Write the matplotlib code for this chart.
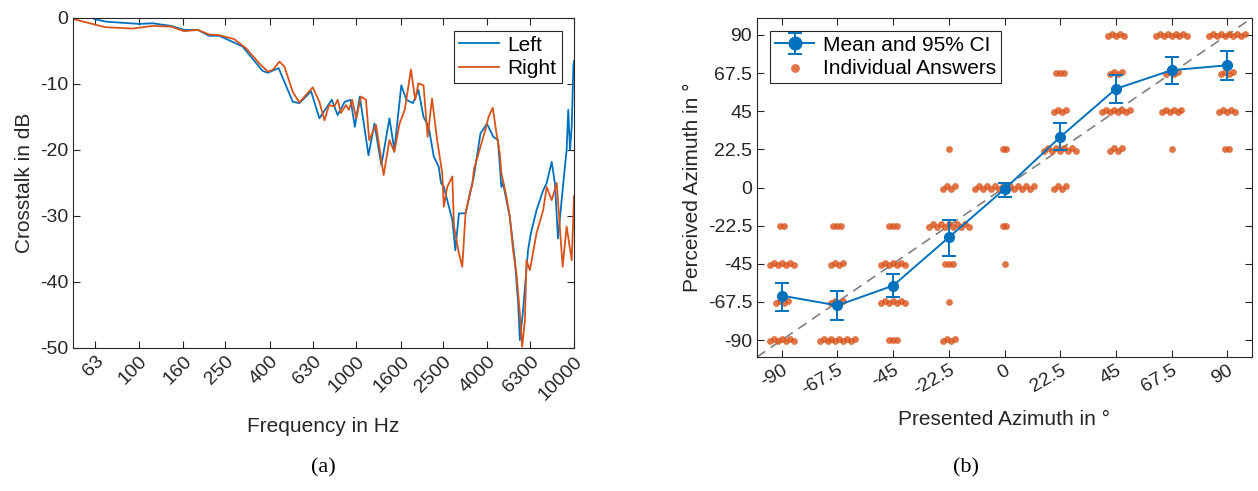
import numpy as np
import matplotlib
matplotlib.use('Agg')
import matplotlib.pyplot as plt

# (a) crosstalk
left_f = [62.5, 70.7, 100.7, 116, 141, 162, 187, 211, 235, 300, 371, 392, 440,
          511, 548, 620, 677, 772, 821, 885, 942, 985, 1038, 1138, 1212, 1304,
          1420, 1496, 1610, 1700, 1820, 1930, 2037, 2150, 2270, 2390, 2450, 2524,
          2762, 2850, 2962, 3176, 3468, 3718, 3980, 4260, 4475, 4640, 4720, 5070,
          5350, 5540, 5640, 5820, 6150, 6340, 6730, 7220, 7490, 7900, 8170, 8440,
          8930, 9250, 9410, 9590, 9760, 9930, 10000]
left_db = [-0.15, -0.55, -0.9, -0.8, -1.2, -1.8, -1.8, -2.7, -2.7, -4.3, -8.0, -8.3, -7.6,
           -12.7, -12.9, -11.1, -15.2, -12.4, -14.7, -12.7, -12.4, -16.5, -11.9, -20.8, -16.0, -22.3,
           -15.2, -20.0, -10.2, -12.4, -12.9, -10.9, -15.0, -16.5, -21.0, -22.5, -25.0, -25.6,
           -30.6, -35.2, -29.6, -29.6, -24.0, -17.5, -16.0, -18.0, -18.5, -25.6, -25.0, -30.1,
           -36.7, -43.2, -48.8, -44.7, -35.2, -32.6, -29.1, -26.1, -25.0, -21.8, -25.0, -33.4,
           -25.0, -20.0, -13.9, -20.0, -16.5, -7.4, -6.5]

right_f = [50, 61.4, 70.7, 93.8, 116, 141, 162, 187, 211, 235, 275, 312, 359, 392, 413,
           444, 468, 511, 548, 631, 677, 714, 750, 793, 821, 850, 896, 925, 958, 999,
           1052, 1108, 1146, 1232, 1336, 1420, 1496, 1580, 1670, 1783, 1865, 1930, 2037,
           2127, 2228, 2352, 2482, 2524, 2617, 2762, 2810, 2962, 3068, 3176, 3350, 3410,
           3468, 3718, 3913, 4050, 4235, 4415, 4560, 4640, 4895, 5070, 5250, 5440, 5640,
           5780, 5950, 6050, 6270, 6730, 7220, 7490, 7900, 8330, 8870, 9250, 9760, 9930, 10000]
right_db = [-0.15, -0.9, -1.4, -1.6, -1.2, -1.3, -2.0, -1.8, -2.5, -2.6, -3.2, -4.6, -6.9, -8.1, -7.9,
            -6.6, -7.4, -11.2, -12.8, -10.5, -12.7, -15.5, -13.2, -13.4, -12.4, -14.4, -13.2, -13.9, -12.4, -15.2,
            -11.9, -12.4, -18.5, -16.2, -23.8, -18.5, -20.3, -16.0, -13.9, -7.8, -12.4, -9.9, -10.2,
            -18.0, -12.2, -18.5, -23.5, -28.6, -25.6, -24.0, -31.6, -35.7, -37.7, -29.6, -26.1, -25.3,
            -23.0, -19.5, -17.0, -15.0, -13.6, -17.7, -20.5, -23.5, -27.1, -30.1, -35.2, -38.7, -44.7,
            -49.8, -45.8, -36.7, -38.2, -32.6, -29.1, -25.6, -27.6, -25.0, -37.7, -31.6, -36.7, -30.1, -27.0]

freq_ticks = [63, 100, 160, 250, 400, 630, 1000, 1600, 2500, 4000, 6300, 10000]

# (b) localisation test
presented = [-90, -67.5, -45, -22.5, 0, 22.5, 45, 67.5, 90]
mean_perceived = [-63.8, -69.6, -57.9, -29.4, -1.0, 29.8, 58.2, 69.2, 72.1]
ci_low = [-72.6, -78.2, -64.8, -40.2, -5.5, 21.9, 49.6, 61.2, 63.7]
ci_high = [-56.3, -61.0, -50.8, -19.2, 2.9, 37.8, 66.2, 77.0, 80.4]
# answers per presented angle: {perceived angle: number of answers}
answers = [
    {-22.5: 2, -45: 7, -67.5: 4, -90: 7},
    {-22.5: 3, -45: 4, -67.5: 4, -90: 10},
    {-22.5: 3, -45: 7, -67.5: 7, -90: 3},
    {22.5: 1, 0: 4, -22.5: 11, -45: 3, -67.5: 1, -90: 4},
    {22.5: 2, 0: 16, -22.5: 2, -45: 1},
    {67.5: 3, 45: 4, 22.5: 9, 0: 4},
    {90: 5, 67.5: 4, 45: 8, 22.5: 4},
    {90: 9, 67.5: 4, 45: 6, 22.5: 1},
    {90: 10, 67.5: 4, 45: 5, 22.5: 2},
]
az_ticks = [-90, -67.5, -45, -22.5, 0, 22.5, 45, 67.5, 90]

blue = '#0072BD'
orange = '#D95319'
txt = '#262626'

plt.rcParams['font.family'] = ['Liberation Sans', 'DejaVu Sans']
plt.rcParams['axes.edgecolor'] = txt
plt.rcParams['xtick.color'] = txt
plt.rcParams['ytick.color'] = txt

fig = plt.figure(figsize=(12.58, 4.91), dpi=100)
ax1 = fig.add_axes([73 / 1258, 1 - 348 / 491, (574 - 73) / 1258, (348 - 18) / 491])
ax2 = fig.add_axes([757 / 1258, 1 - 357 / 491, (1252 - 757) / 1258, (357 - 18) / 491])

for ax in (ax1, ax2):
    ax.tick_params(direction='in', top=True, right=True, labelsize=14, length=5, width=0.8)
    ax.tick_params(which='minor', top=False, bottom=False, left=False, right=False)
    for s in ax.spines.values():
        s.set_linewidth(0.8)

# ---- (a)
ax1.semilogx(left_f, left_db, color=blue, lw=1.3, label='Left')
ax1.semilogx(right_f, right_db, color=orange, lw=1.3, label='Right')
ax1.set_xlim(50, 10000)
ax1.set_ylim(-50, 0)
ax1.set_xticks(freq_ticks)
ax1.set_xticklabels([str(f) for f in freq_ticks], rotation=45, ha='right',
                    rotation_mode='anchor')
ax1.minorticks_off()
ax1.set_yticks([0, -10, -20, -30, -40, -50])
ax1.set_yticklabels(['0', '-10', '-20', '-30', '-40', '-50'])
ax1.set_xlabel('Frequency in Hz', fontsize=15, color=txt, labelpad=10)
ax1.set_ylabel('Crosstalk in dB', fontsize=15, color=txt)
leg1 = ax1.legend(loc='upper right', fontsize=15, fancybox=False, framealpha=1,
                  edgecolor=txt, handlelength=1.9, borderpad=0.25, labelspacing=0.2,
                  handletextpad=0.4, borderaxespad=0.6)
leg1.get_frame().set_linewidth(0.8)

# ---- (b)
ax2.plot([-100, 100], [-100, 100], color='#808080', lw=1.2, dashes=(6, 4), zorder=1)
xs, ys = [], []
for x0, col in zip(presented, answers):
    for y0, n in col.items():
        for i in range(n):
            xs.append(x0 + (i - (n - 1) / 2) * 1.6)
            ys.append(y0 + (0.7 * (1 if i % 2 else -1) if n > 3 else 0))
ax2.scatter(xs, ys, s=24, color=orange, alpha=0.8, linewidths=0, zorder=2,
            label='Individual Answers')
err = [np.array(mean_perceived) - np.array(ci_low), np.array(ci_high) - np.array(mean_perceived)]
ax2.errorbar(presented, mean_perceived, yerr=err, color=blue, lw=1.4, marker='o', ms=7,
             capsize=5, capthick=1.4, zorder=3, label='Mean and 95% CI')
ax2.set_xlim(-100, 100)
ax2.set_ylim(-100, 100)
ax2.set_xticks(az_ticks)
ax2.set_xticklabels([f'{v:g}' for v in az_ticks], rotation=30, ha='right',
                    rotation_mode='anchor')
ax2.set_yticks(az_ticks)
ax2.set_yticklabels([f'{v:g}' for v in az_ticks])
ax2.set_xlabel('Presented Azimuth in °', fontsize=15, color=txt, labelpad=8)
ax2.set_ylabel('Perceived Azimuth in °', fontsize=15, color=txt)
h, l = ax2.get_legend_handles_labels()
leg2 = ax2.legend([h[1], h[0]], [l[1], l[0]], loc='upper left', fontsize=15, fancybox=False,
                  framealpha=1, edgecolor=txt, handlelength=1.9, borderpad=0.25,
                  labelspacing=0.2, handletextpad=0.4, borderaxespad=0.6, markerscale=1.3)
leg2.get_frame().set_linewidth(0.8)

fig.text(323 / 1258, 1 - 468 / 491, '(a)', fontsize=16, family='Liberation Serif',
         ha='center', va='center')
fig.text(966 / 1258, 1 - 468 / 491, '(b)', fontsize=16, family='Liberation Serif',
         ha='center', va='center')

fig.savefig('out.png', dpi=100)
